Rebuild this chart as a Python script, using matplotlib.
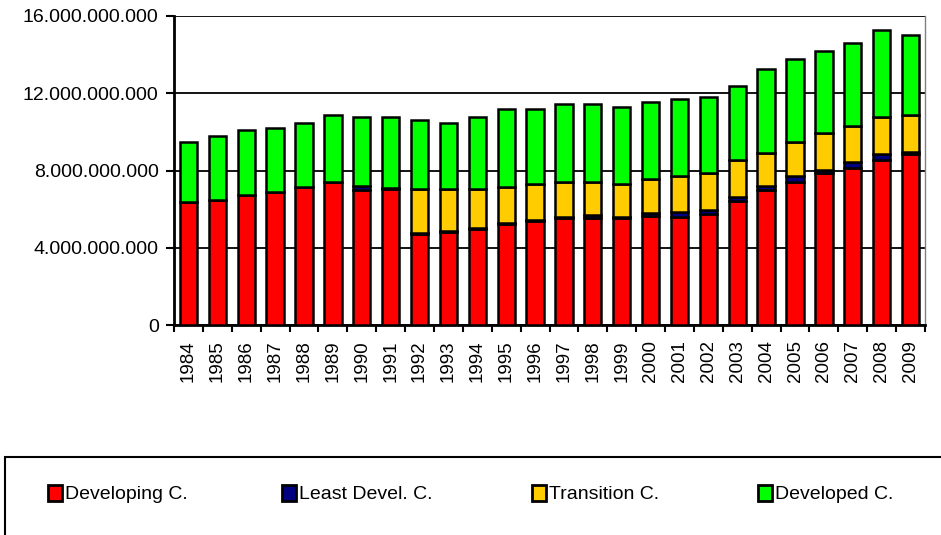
import matplotlib
matplotlib.use("Agg")
import matplotlib.pyplot as plt
import numpy as np
from matplotlib.patches import Rectangle, Patch
from matplotlib.ticker import FuncFormatter, FixedLocator

years = [str(y) for y in range(1984, 2010)]
developing = [6.35, 6.47, 6.73, 6.87, 7.16, 7.42, 7.00, 7.04, 4.70, 4.83, 4.95, 5.23, 5.37,
              5.52, 5.52, 5.52, 5.64, 5.61, 5.75, 6.44, 6.99, 7.42, 7.86, 8.11, 8.55, 8.86]
least = [0, 0, 0, 0, 0, 0, 0.20, 0.05, 0.05, 0.05, 0.05, 0.05, 0.05,
         0.05, 0.18, 0.05, 0.15, 0.23, 0.21, 0.21, 0.21, 0.30, 0.17, 0.32, 0.31, 0.12]
transition = [0, 0, 0, 0, 0, 0, 0, 0, 2.28, 2.15, 2.03, 1.88, 1.88,
              1.85, 1.72, 1.73, 1.77, 1.89, 1.90, 1.90, 1.72, 1.77, 1.90, 1.88, 1.90, 1.90]
developed = [3.14, 3.32, 3.35, 3.35, 3.32, 3.46, 3.56, 3.67, 3.59, 3.45, 3.73, 4.01, 3.87,
             4.01, 4.01, 4.00, 4.00, 3.97, 3.96, 3.84, 4.32, 4.30, 4.28, 4.31, 4.52, 4.15]
series = [("Developing C.", developing, "#ff0000"),
          ("Least Devel. C.", least, "#000080"),
          ("Transition C.", transition, "#ffcc00"),
          ("Developed C.", developed, "#00ff00")]
scale = 1e9

plt.rcParams['font.family'] = ['Liberation Sans', 'DejaVu Sans']
fig = plt.figure(figsize=(9.41, 5.35), dpi=100)
ax = fig.add_axes([174/941, 1-325/535, (925-174)/941, (325-16)/535])

x = np.arange(len(years))
bottom = np.zeros(len(years))
for name, vals, col in series:
    v = np.array(vals) * scale
    ax.bar(x, v, 0.6, bottom=bottom, color=col, edgecolor='black', linewidth=1.8, zorder=3, label=name)
    bottom += v

ax.set_xlim(-0.5, len(years) - 0.5)
ax.set_ylim(0, 16e9)
ax.set_yticks(np.arange(0, 16e9 + 1, 4e9))
ax.yaxis.set_major_formatter(FuncFormatter(lambda v, p: f"{int(round(v)):,}".replace(",", ".")))
ax.tick_params(axis='y', labelsize=14, direction='out', length=6, width=1.5, colors='black', pad=5)
ax.xaxis.set_major_locator(FixedLocator(np.arange(-0.5, len(years), 1.0)))
ax.xaxis.set_major_formatter(FuncFormatter(lambda v, p: ""))
ax.xaxis.set_minor_locator(FixedLocator(x))
ax.set_xticklabels(years, minor=True, rotation=90)
ax.tick_params(axis='x', which='major', direction='out', length=5, width=1.5)
ax.tick_params(axis='x', which='minor', length=0, labelsize=13.5, pad=11)
ax.grid(axis='y', color='black', linewidth=1.3, zorder=0)
ax.set_axisbelow(True)
ax.spines['left'].set_linewidth(2)
ax.spines['bottom'].set_linewidth(2)
ax.spines['top'].set_visible(False)
ax.spines['right'].set_color('#808080')
ax.spines['right'].set_linewidth(1)

# legend box
fig.patches.append(Rectangle((5/941, -0.05), 1.0, 1-457/535 + 0.05, transform=fig.transFigure,
                             fill=False, edgecolor='black', linewidth=1.5, clip_on=False))
xpos = [48, 282, 532, 758]
for (name, vals, col), xp in zip(series, xpos):
    fig.legend(handles=[Patch(facecolor=col, edgecolor='black', linewidth=2)],
               labels=[name], loc='center left', bbox_to_anchor=(xp/941, 1-494/535),
               frameon=False, fontsize=14, handlelength=0.7, handleheight=0.9,
               handletextpad=0.15, borderpad=0, borderaxespad=0)

fig.savefig("out.png", dpi=100)
